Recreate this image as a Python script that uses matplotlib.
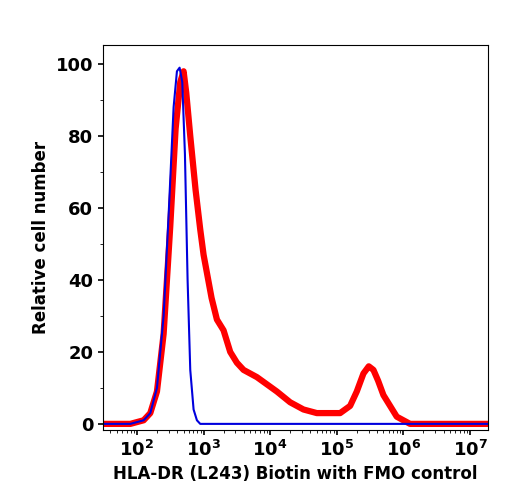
import numpy as np
import matplotlib
matplotlib.use("Agg")
import matplotlib.pyplot as plt

# log10 positions and relative counts
fmo_logx = [1.4, 1.9, 2.1, 2.2, 2.3, 2.4, 2.48, 2.55, 2.6, 2.64, 2.68, 2.72, 2.76, 2.8, 2.85, 2.9, 2.95, 3.0, 7.3]
fmo_y    = [0, 0, 1, 3, 10, 30, 60, 88, 98, 99, 95, 75, 40, 15, 4, 1, 0, 0, 0]
stain_logx = [1.4, 1.9, 2.1, 2.2, 2.3, 2.4, 2.5, 2.58, 2.65, 2.7, 2.74, 2.8, 2.88, 2.95, 3.0, 3.05, 3.12, 3.2, 3.3, 3.4,
              3.5, 3.6, 3.7, 3.8, 3.95, 4.1, 4.3, 4.5, 4.7, 4.9, 5.05, 5.2, 5.3, 5.4, 5.48, 5.55, 5.62, 5.7, 5.8, 5.9, 6.0, 6.1, 6.2, 7.3]
stain_y    = [0, 0, 1, 3, 9, 25, 55, 82, 95, 98, 92, 80, 65, 54, 47, 42, 35, 29, 26, 20,
              17, 15, 14, 13, 11, 9, 6, 4, 3, 3, 3, 5, 9, 14, 16, 15, 12, 8, 5, 2, 1, 0, 0, 0]

fig = plt.figure(figsize=(5.08, 5.0), dpi=100)
ax = fig.add_axes([103/508, 1-430/500, 385/508, 385/500])
x1 = 10**np.array(fmo_logx); x2 = 10**np.array(stain_logx)
ax.plot(x2, stain_y, color='#ff0000', lw=4.5, solid_joinstyle='round')
ax.plot(x1, fmo_y, color='#0000dd', lw=1.5)
ax.set_xscale('log')
ax.set_xlim(10**1.49, 10**7.27)
ax.set_ylim(-1.7, 105.3)
ax.set_yticks([0, 20, 40, 60, 80, 100])
ax.set_yticks(np.arange(0, 101, 10), minor=True)
ax.set_xticks([1e2, 1e3, 1e4, 1e5, 1e6, 1e7])
for lab in ax.get_xticklabels() + ax.get_yticklabels():
    lab.set_fontweight('bold')
ax.tick_params(labelsize=13, direction='out', width=1.2)
ax.set_xlabel('HLA-DR (L243) Biotin with FMO control', fontsize=12, fontweight='bold')
ax.set_ylabel('Relative cell number', fontsize=12, fontweight='bold')
fig.savefig('out.png', dpi=100)
